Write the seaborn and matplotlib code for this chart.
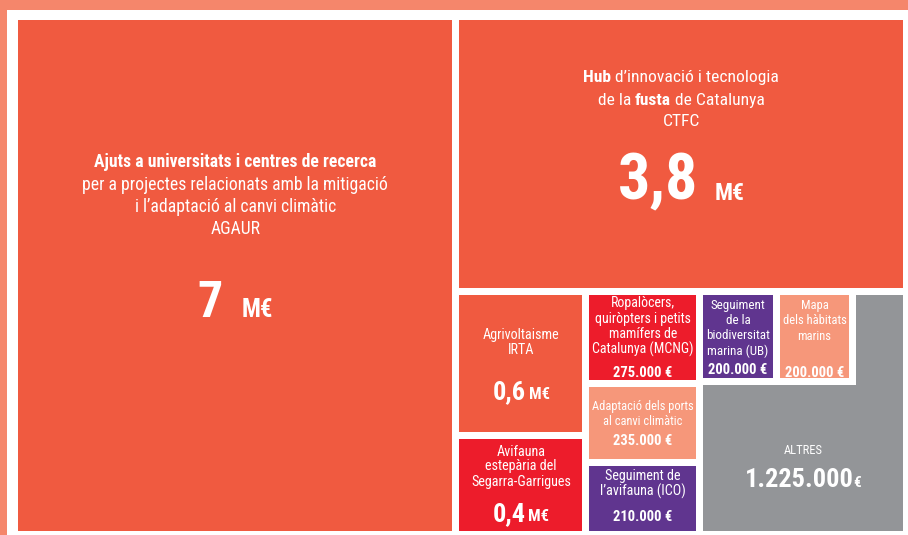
import matplotlib
matplotlib.use("Agg")
import matplotlib.pyplot as plt
from matplotlib import font_manager
from matplotlib.patches import Rectangle, Polygon
import seaborn as sns

# ------------------------------------------------------------------ data
projects = ["AGAUR", "CTFC", "IRTA", "Avifauna", "MCNG", "Ports", "ICO", "UB", "Mapa", "ALTRES"]
amounts_meur = [7.0, 3.8, 0.6, 0.4, 0.275, 0.235, 0.21, 0.2, 0.2, 1.225]
amount_labels = ["7", "3,8", "0,6", "0,4", "275.000 €", "235.000 €", "210.000 €",
                 "200.000 €", "200.000 €", "1.225.000"]
box_colors = ["#F05A40", "#F05A40", "#F05A40", "#ED1C2B", "#ED1C2B",
              "#F6977A", "#60358F", "#60358F", "#F6977A", "#939598"]

# descriptive lines: list of segments (text, bold?)
desc_lines = {
    "AGAUR": [[("Ajuts a universitats i centres de recerca", True)],
              [("per a projectes relacionats amb la mitigació", False)],
              [("i l’adaptació al canvi climàtic", False)],
              [("AGAUR", False)]],
    "CTFC": [[("Hub", True), ("d’innovació i tecnologia", False)],
             [("de la", False), ("fusta", True), ("de Catalunya", False)],
             [("CTFC", False)]],
    "IRTA": [[("Agrivoltaisme", False)], [("IRTA", False)]],
    "Avifauna": [[("Avifauna", False)], [("estepària del", False)], [("Segarra-Garrigues", False)]],
    "MCNG": [[("Ropalòcers,", False)], [("quiròpters i petits", False)],
             [("mamífers de", False)], [("Catalunya (MCNG)", False)]],
    "Ports": [[("Adaptació dels ports", False)], [("al canvi climàtic", False)]],
    "ICO": [[("Seguiment de", False)], [("l’avifauna (ICO)", False)]],
    "UB": [[("Seguiment", False)], [("de la", False)], [("biodiversitat", False)], [("marina (UB)", False)]],
    "Mapa": [[("Mapa", False)], [("dels hàbitats", False)], [("marins", False)]],
    "ALTRES": [[("ALTRES", False)]],
}

# ------------------------------------------------------------------ style
sns.set_style("white")
palette = sns.color_palette(box_colors)

avail = {f.name for f in font_manager.fontManager.ttflist}
FAM = next((f for f in ["Roboto Condensed", "Liberation Sans Narrow", "DejaVu Sans Condensed",
                        "Liberation Sans", "DejaVu Sans"] if f in avail), "DejaVu Sans")
plt.rcParams["font.family"] = [FAM, "DejaVu Sans"]

W_PX, H_PX, DPI = 908, 535, 100
GAP = 7
PANEL = (18, 20, 903, 531)
L_ASPECT = 1.2
MIN_W = 107      # minimum tile width so labels fit
PAD = 3


def value_segments(i):
    p = projects[i]
    if p == "AGAUR":
        return [(amount_labels[i], 36, True), ("M€", 18, True)], 83, 1.6
    if p == "CTFC":
        return [(amount_labels[i], 46, True), ("M€", 17, True)], 74, 1.1
    if p in ("IRTA", "Avifauna"):
        return [(amount_labels[i], 19, True), ("M€", 12, True)], {"IRTA": 45, "Avifauna": 35}[p], 0.5
    if p == "ALTRES":
        return [(amount_labels[i], 19, True), ("€", 11, True)], 33, 0.0
    adv = {"MCNG": 23.5, "Ports": 20, "ICO": 25, "UB": 19, "Mapa": 37}[p]
    return [(amount_labels[i], 10.5, True)], adv, 1.0


desc_style = {
    "AGAUR": (12.7, [0, 23, 22, 22], -0.078),
    "CTFC": (12.6, [0, 23, 21], -0.073),
    "IRTA": (10.2, [0, 15], 0.0),
    "Avifauna": (10.2, [0, 14.5, 15.5], -0.02),
    "MCNG": (10.2, [0, 15.5, 15.5, 15.5], 0.0),
    "Ports": (10.2, [0, 15], 0.0),
    "ICO": (10.2, [0, 16], -0.05),
    "UB": (10.2, [0, 15.5, 15, 15.5], 0.0),
    "Mapa": (10.2, [0, 15.5, 15.5], 0.02),
    "ALTRES": (9, [0], 0.05),
}

# ------------------------------------------------------------------ layout from values
tree = ("h", [0, ("v", [1, ("h", [("v", [2, 3]), ("v", [4, 5, 6]), ("L", [7, 8, 9])])])])


def node_total(node):
    if isinstance(node, int):
        return amounts_meur[node]
    return sum(node_total(c) for c in node[1])


shapes = {}


def split_sizes(tots, avail_len, min_len=None):
    T = sum(tots)
    sizes = [avail_len * t / T for t in tots]
    if min_len is not None and any(s < min_len for s in sizes):
        fixed = [s < min_len for s in sizes]
        rest_len = avail_len - min_len * sum(fixed)
        rest_T = sum(t for t, f in zip(tots, fixed) if not f)
        sizes = [min_len if f else rest_len * t / rest_T for t, f in zip(tots, fixed)]
    return sizes


def layout(node, x0, y0, x1, y1):
    if isinstance(node, int):
        shapes[node] = ("rect", (x0, y0, x1, y1), (x0, y0, x1, y1))
        return
    kind, kids = node
    tots = [node_total(k) for k in kids]
    T = sum(tots)
    if kind == "h":
        avail_w = (x1 - x0) - GAP * (len(kids) - 1)
        x = x0
        for k, w in zip(kids, split_sizes(tots, avail_w, MIN_W)):
            layout(k, x, y0, x + w, y1)
            x += w + GAP
    elif kind == "v":
        avail_h = (y1 - y0) - GAP * (len(kids) - 1)
        y = y0
        for k, h in zip(kids, split_sizes(tots, avail_h)):
            layout(k, x0, y, x1, y + h)
            y += h + GAP
    else:
        W, H = x1 - x0, y1 - y0
        small, big = kids[:-1], kids[-1]
        x = x0
        hs = 0
        for k in small:
            area = amounts_meur[k] / T * W * H
            w = (area / L_ASPECT) ** 0.5
            hs = L_ASPECT * w
            shapes[k] = ("rect", (x, y0, x + w, y0 + hs), (x, y0, x + w, y0 + hs))
            x += w + GAP
        yb = y0 + hs + GAP
        poly = [(x, y0), (x1, y0), (x1, y1), (x0, y1), (x0, yb), (x, yb)]
        shapes[big] = ("poly", poly, (x0, yb, x1, y1))


layout(tree, *PANEL)

# ------------------------------------------------------------------ draw
fig = plt.figure(figsize=(W_PX / DPI, H_PX / DPI), dpi=DPI)
fig.patch.set_facecolor("white")
ax = fig.add_axes([0, 0, 1, 1])
ax.set_xlim(0, W_PX)
ax.set_ylim(H_PX, 0)
ax.axis("off")

BAND = "#F5866B"
ax.add_patch(Rectangle((0, 0), W_PX, 10, color=BAND, lw=0))
ax.add_patch(Rectangle((0, 0), 7, H_PX, color=BAND, lw=0))

for i, p in enumerate(projects):
    kind, geom, _ = shapes[i]
    if kind == "rect":
        x0, y0, x1, y1 = geom
        ax.add_patch(Rectangle((x0, y0), x1 - x0, y1 - y0, facecolor=palette[i], lw=0))
    else:
        ax.add_patch(Polygon(geom, closed=True, facecolor=palette[i], lw=0))

fig.canvas.draw()
renderer = fig.canvas.get_renderer()
FAMS = [FAM, "DejaVu Sans"]


def text_w(s, size, bold):
    t = ax.text(0, 0, s, fontsize=size, fontweight="bold" if bold else "normal", family=FAMS)
    w = t.get_window_extent(renderer).width
    t.remove()
    return w


def space_px(size, bold):
    return text_w("x x", size, bold) - text_w("xx", size, bold)


def line_width(segs, gapf=1.0):
    total = 0
    for j, (s, size, bold) in enumerate(segs):
        total += text_w(s, size, bold)
        if j > 0:
            total += space_px(segs[j - 1][1], segs[j - 1][2]) * gapf
    return total


def draw_line(cx, baseline, segs, gapf=1.0):
    total = line_width(segs, gapf)
    x = cx - total / 2
    for j, (s, size, bold) in enumerate(segs):
        if j > 0:
            x += space_px(segs[j - 1][1], segs[j - 1][2]) * gapf
        ax.text(x, baseline, s, fontsize=size, fontweight="bold" if bold else "normal",
                color="white", ha="left", va="baseline", family=FAMS)
        x += text_w(s, size, bold)


PT = DPI / 72.0
for i, p in enumerate(projects):
    _, _, (x0, y0, x1, y1) = shapes[i]
    size, advs, shift = desc_style[p]
    vsegs, vadv, vgap = value_segments(i)
    maxw = (x1 - x0) - 2 * PAD
    widest = max(line_width([(s, size, b) for s, b in line]) for line in desc_lines[p])
    if widest > maxw:
        size = size * maxw / widest
    vw = line_width(vsegs, vgap)
    if vw > maxw:
        vsegs = [(s, sz * maxw / vw, b) for s, sz, b in vsegs]
    baselines = []
    b = 0
    for a in advs:
        b += a
        baselines.append(b)
    vb = b + vadv
    top = -0.72 * size * PT
    block_c = (top + vb) / 2
    rc = (y0 + y1) / 2 + shift * (y1 - y0)
    off = rc - block_c
    cx = (x0 + x1) / 2
    for line, bl in zip(desc_lines[p], baselines):
        draw_line(cx, bl + off, [(s, size, bold) for s, bold in line])
    draw_line(cx, vb + off, vsegs, gapf=vgap)

fig.savefig("out.png", dpi=DPI, facecolor="white")
